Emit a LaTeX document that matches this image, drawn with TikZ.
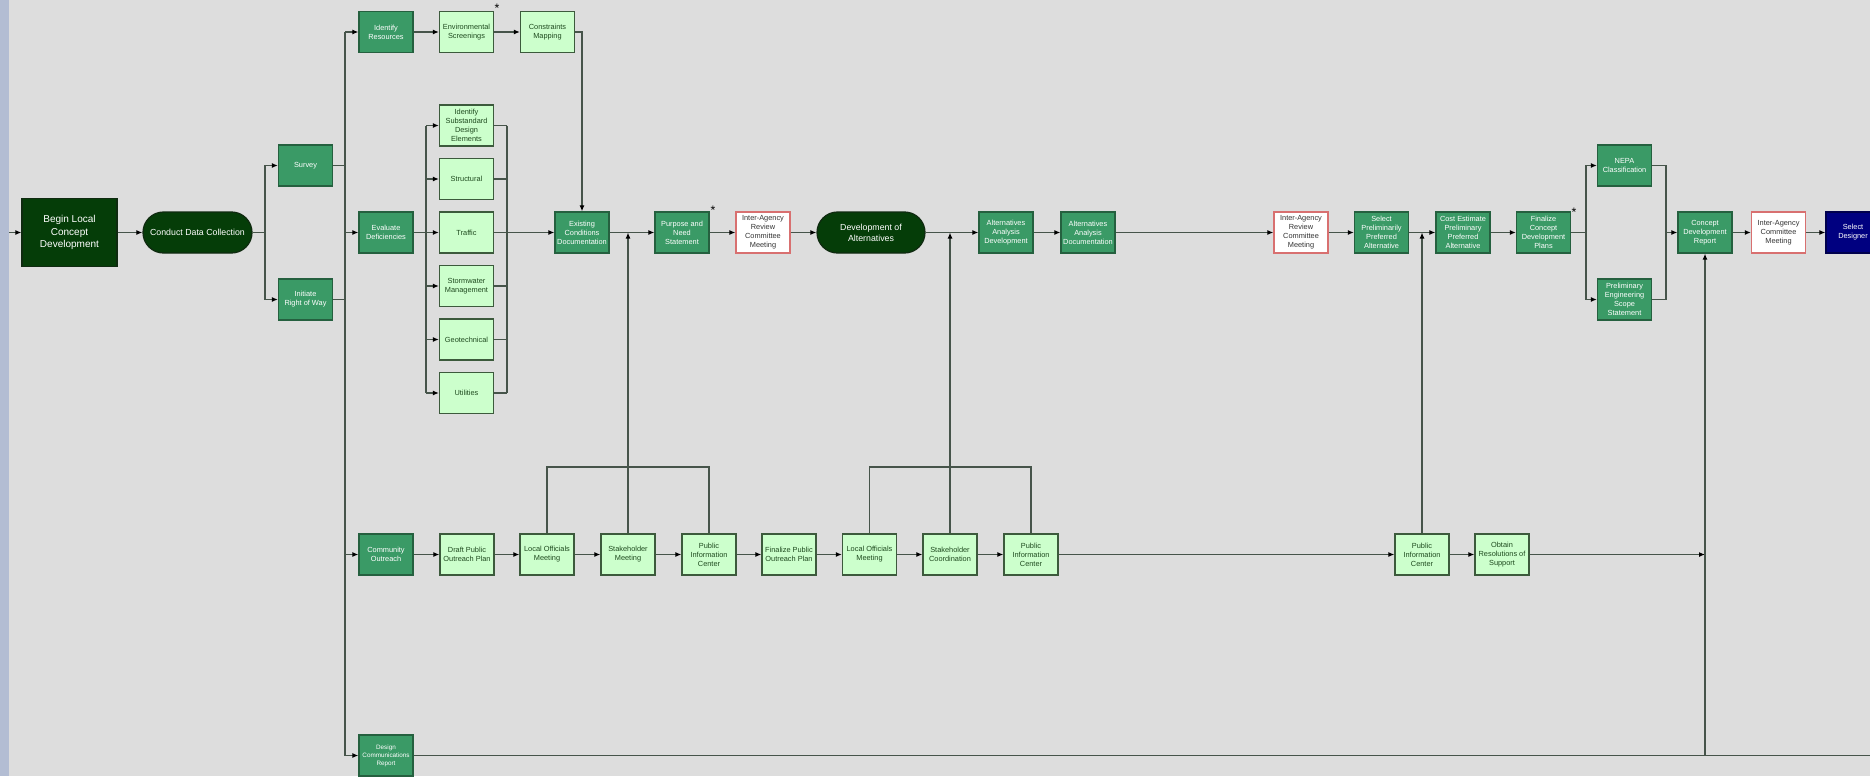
\documentclass[tikz,border=0pt]{standalone}
\usepackage{fontspec}
\setmainfont{Liberation Sans}
\usetikzlibrary{arrows.meta}

\definecolor{bg}{HTML}{DDDDDD}
\definecolor{strip}{HTML}{B3BDD3}
\definecolor{dkgreen}{HTML}{053D08}
\definecolor{dkborder}{HTML}{0F2A10}
\definecolor{midgreen}{HTML}{3A9A66}
\definecolor{midborder}{HTML}{25603F}
\definecolor{ltgreen}{HTML}{CCFFCC}
\definecolor{ltborder}{HTML}{3C5A3C}
\definecolor{dktext}{HTML}{1E4A1E}
\definecolor{meetred}{HTML}{D87070}
\definecolor{linegray}{HTML}{46544A}
\definecolor{navy}{HTML}{000080}

\begin{document}
\begin{tikzpicture}[
  x=0.2mm, y=-0.2mm,
  >={Latex[length=1.2mm,width=1mm,black]},
  flow/.style={draw=linegray, line width=0.3mm},
  box/.style={draw, line width=0.25mm, minimum width=10.8mm, minimum height=8.2mm, inner sep=0.5pt, align=center, font=\fontsize{4.2}{5.2}\selectfont},
  task/.style={box, fill=midgreen, draw=midborder, text=white},
  sub/.style={box, fill=ltgreen, draw=ltborder, text=dktext},
  meet/.style={box, fill=white, draw=meetred, text=black!80},
  last_box/.style={box, fill=navy, draw=navy!60!black, text=white},
  big/.style={fill=dkgreen, draw=dkborder, line width=0.25mm, text=white, align=center},
  pill/.style={big, rounded corners=4.1mm, minimum width=21.8mm, minimum height=8.2mm, inner sep=1pt, font=\fontsize{5}{6.3}\selectfont},
  star/.style={inner sep=0pt, text=black, font=\fontsize{7}{7}\selectfont}
  ]
	\useasboundingbox (0,0) rectangle (1870,776);
	\clip (0,0) rectangle (1870,776);
	\fill[bg] (0,0) rectangle (1870,776);
	\fill[strip] (0,0) rectangle (9,776);

	\node[big, minimum width=19mm, minimum height=13.6mm, font=\fontsize{5.7}{7.1}\selectfont] (begin) at (69.5,232.5) {Begin Local\\Concept\\Development};
	\node[pill] (cdc) at (197.5,232.5) {Conduct Data Collection};

	\node[task] (survey) at (305.5,165.5) {Survey};
	\node[task] (row) at (305.5,299.5) {Initiate\\Right of Way};

	\node[task] (idres) at (386,32) {Identify\\Resources};
	\node[task] (evdef) at (386,232.5) {Evaluate\\Deficiencies};
	\node[task] (comout) at (386,554.5) {Community\\Outreach};
	\node[task, font=\fontsize{3.6}{4.6}\selectfont] (dcr) at (386,755.5) {Design\\Communications\\Report};

	\node[sub] (envscr) at (466.5,32) {Environmental\\Screenings};
	\node[sub] (cmap) at (547.5,32) {Constraints\\Mapping};
	\node[star] (ast1) at (497,8) {*};

	\node[sub] (isde) at (466.5,125.5) {Identify\\Substandard\\Design\\Elements};
	\node[sub] (struct) at (466.5,179) {Structural};
	\node[sub] (trf) at (466.5,232.5) {Traffic};
	\node[sub] (storm) at (466.5,286) {Stormwater\\Management};
	\node[sub] (geo) at (466.5,339.5) {Geotechnical};
	\node[sub] (util) at (466.5,393) {Utilities};

	\node[task] (ecd) at (582,232.5) {Existing\\Conditions\\Documentation};
	\node[task] (pns) at (682,232.5) {Purpose and\\Need\\Statement};
	\node[star] (ast2) at (713,210) {*};
	\node[meet] (iarc1) at (763,232.5) {Inter-Agency\\Review\\Committee\\Meeting};
	\node[pill, minimum width=21.6mm] (doa) at (871,232.5) {Development of\\Alternatives};
	\node[task] (aad) at (1006,232.5) {Alternatives\\Analysis\\Development};
	\node[task] (aadoc) at (1088,232.5) {Alternatives\\Analysis\\Documentation};
	\node[meet] (iarc2) at (1301,232.5) {Inter-Agency\\Review\\Committee\\Meeting};
	\node[task] (sppa) at (1381.5,232.5) {Select\\Preliminarily\\Preferred\\Alternative};
	\node[task] (cepp) at (1463,232.5) {Cost Estimate\\Preliminary\\Preferred\\Alternative};
	\node[task] (fcdp) at (1543.5,232.5) {Finalize\\Concept\\Development\\Plans};
	\node[star] (ast3) at (1574,212) {*};
	\node[task] (nepa) at (1624.5,165.5) {NEPA\\Classification};
	\node[task] (pess) at (1624.5,299.5) {Preliminary\\Engineering\\Scope\\Statement};
	\node[task] (cdr) at (1705,232.5) {Concept\\Development\\Report};
	\node[meet] (iacm) at (1778.5,232.5) {Inter-Agency\\Committee\\Meeting};
	\node[last_box] (seld) at (1853,232.5) {Select\\Designer};

	\node[sub] (draft) at (467,554.5) {Draft Public\\Outreach Plan};
	\node[sub] (loc1) at (547,554.5) {Local Officials\\Meeting};
	\node[sub] (stk1) at (628,554.5) {Stakeholder\\Meeting};
	\node[sub] (pic1) at (709,554.5) {Public\\Information\\Center};
	\node[sub] (fin) at (789,554.5) {Finalize Public\\Outreach Plan};
	\node[sub] (loc2) at (869.5,554.5) {Local Officials\\Meeting};
	\node[sub] (stk2) at (950,554.5) {Stakeholder\\Coordination};
	\node[sub] (pic2) at (1031,554.5) {Public\\Information\\Center};
	\node[sub] (pic3) at (1422,554.5) {Public\\Information\\Center};
	\node[sub] (obt) at (1502,554.5) {Obtain\\Resolutions of\\Support};

	\coordinate (edge) at (9,232.5);
	\coordinate (s1) at (265,232.5);
	\coordinate (bus) at (345,232.5);
	\coordinate (b2) at (426,232.5);
	\coordinate (b3) at (507,232.5);
	\coordinate (br1) at (628,467);
	\coordinate (br2) at (950,467);
	\coordinate (s2) at (1586,232.5);
	\coordinate (j2) at (1666,232.5);
	\coordinate (rt) at (1880,755.5);

	\draw[flow,->] (edge) -- (begin);
	\draw[flow,->] (begin) -- (cdc);
	\draw[flow] (cdc) -- (s1);
	\draw[flow,->] (s1) |- (survey);
	\draw[flow,->] (s1) |- (row);

	\draw[flow] (survey) -- (survey -| bus);
	\draw[flow] (row) -- (row -| bus);
	\draw[flow] (bus |- idres) -- (bus |- dcr);
	\foreach \n in {idres,evdef,comout,dcr}
		\draw[flow,->] (bus |- \n) -- (\n);

	\draw[flow,->] (idres) -- (envscr);
	\draw[flow,->] (envscr) -- (cmap);
	\draw[flow,->] (cmap) -| (ecd);

	\draw[flow] (evdef) -- (b2);
	\draw[flow] (b2 |- isde) -- (b2 |- util);
	\draw[flow] (b3 |- isde) -- (b3 |- util);
	\foreach \n in {isde,struct,trf,storm,geo,util} {
		\draw[flow,->] (b2 |- \n) -- (\n);
		\draw[flow] (\n) -- (b3 |- \n);
	}
	\draw[flow,->] (b3) -- (ecd);

	\draw[flow,->] (ecd) -- (pns);
	\draw[flow,->] (pns) -- (iarc1);
	\draw[flow,->] (iarc1) -- (doa);
	\draw[flow,->] (doa) -- (aad);
	\draw[flow,->] (aad) -- (aadoc);
	\draw[flow,->] (aadoc) -- (iarc2);
	\draw[flow,->] (iarc2) -- (sppa);
	\draw[flow,->] (sppa) -- (cepp);
	\draw[flow,->] (cepp) -- (fcdp);
	\draw[flow] (fcdp) -- (s2);
	\draw[flow,->] (s2) |- (nepa);
	\draw[flow,->] (s2) |- (pess);
	\draw[flow] (nepa) -| (j2);
	\draw[flow] (pess) -| (j2);
	\draw[flow,->] (j2) -- (cdr);
	\draw[flow,->] (cdr) -- (iacm);
	\draw[flow,->] (iacm) -- (seld);

	\draw[flow,->] (comout) -- (draft);
	\draw[flow,->] (draft) -- (loc1);
	\draw[flow,->] (loc1) -- (stk1);
	\draw[flow,->] (stk1) -- (pic1);
	\draw[flow,->] (pic1) -- (fin);
	\draw[flow,->] (fin) -- (loc2);
	\draw[flow,->] (loc2) -- (stk2);
	\draw[flow,->] (stk2) -- (pic2);
	\draw[flow,->] (pic2) -- (pic3);
	\draw[flow,->] (pic3) -- (obt);
	\draw[flow,->] (obt) -- (cdr |- obt);

	\draw[flow] (loc1.north) |- (br1) -| (pic1.north);
	\draw[flow,->] (stk1.north) -- (stk1 |- ecd);
	\draw[flow] (loc2.north) |- (br2) -| (pic2.north);
	\draw[flow,->] (stk2.north) -- (stk2 |- doa);
	\draw[flow,->] (pic3.north) -- (pic3 |- sppa);

	\draw[flow] (dcr) -- (rt);
	\draw[flow,->] (cdr |- dcr) -- (cdr);
\end{tikzpicture}
\end{document}
